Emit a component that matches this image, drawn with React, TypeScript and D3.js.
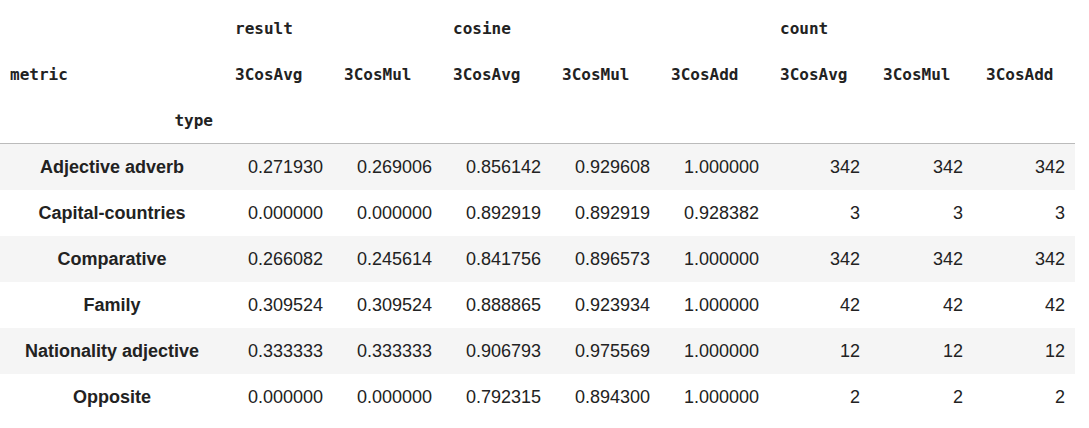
import React from "react";
import * as d3 from "d3";

const rowLabels = ["Adjective adverb", "Capital-countries", "Comparative", "Family", "Nationality adjective", "Opposite"];
const groups = [
  { name: "result", span: 2 },
  { name: "cosine", span: 3 },
  { name: "count", span: 3 },
];
const subCols = ["3CosAvg", "3CosMul", "3CosAvg", "3CosMul", "3CosAdd", "3CosAvg", "3CosMul", "3CosAdd"];
const values = [
  ["0.271930", "0.269006", "0.856142", "0.929608", "1.000000", "342", "342", "342"],
  ["0.000000", "0.000000", "0.892919", "0.892919", "0.928382", "3", "3", "3"],
  ["0.266082", "0.245614", "0.841756", "0.896573", "1.000000", "342", "342", "342"],
  ["0.309524", "0.309524", "0.888865", "0.923934", "1.000000", "42", "42", "42"],
  ["0.333333", "0.333333", "0.906793", "0.975569", "1.000000", "12", "12", "12"],
  ["0.000000", "0.000000", "0.792315", "0.894300", "1.000000", "2", "2", "2"],
];
// column left edges (header) and right edges (values)
const colLeft = [235, 344, 453, 562, 671, 780, 883, 986];
const colRight = [323, 432, 541, 650, 759, 860, 963, 1065];

const W = 1089, H = 428;
const mono = "'DejaVu Sans Mono', monospace";
const sans = "'Liberation Sans', Arial, sans-serif";

export default function App() {
  const y = d3.scaleBand<number>().domain(d3.range(rowLabels.length)).range([144, 420]);
  let gi = 0;
  return (
    <svg width={W} height={H} style={{ position: "absolute", left: 0, top: 0, background: "#fff" }}>
      {groups.map((g) => {
        const x = colLeft[gi];
        gi += g.span;
        return (
          <text key={g.name} x={x} y={34} fontFamily={mono} fontWeight="bold" fontSize={16} fill="#222">
            {g.name}
          </text>
        );
      })}
      <text x={10} y={80} fontFamily={mono} fontWeight="bold" fontSize={16} fill="#222">metric</text>
      {subCols.map((c, i) => (
        <text key={i} x={colLeft[i]} y={80} fontFamily={mono} fontWeight="bold" fontSize={16} fill="#222">{c}</text>
      ))}
      <text x={213} y={126} textAnchor="end" fontFamily={mono} fontWeight="bold" fontSize={16} fill="#222">type</text>
      <line x1={0} x2={1075} y1={143.5} y2={143.5} stroke="#bbb" />
      {rowLabels.map((r, i) => (
        <g key={r}>
          {i % 2 === 0 && <rect x={0} y={y(i)!} width={1075} height={y.bandwidth()} fill="#f5f5f5" />}
          <text x={112} y={y(i)! + y.bandwidth() / 2} dy="0.35em" textAnchor="middle" fontFamily={sans} fontWeight="bold" fontSize={18} fill="#222">{r}</text>
          {values[i].map((v, j) => (
            <text key={j} x={colRight[j]} y={y(i)! + y.bandwidth() / 2} dy="0.35em" textAnchor="end" fontFamily={sans} fontSize={18} fill="#222">{v}</text>
          ))}
        </g>
      ))}
    </svg>
  );
}
